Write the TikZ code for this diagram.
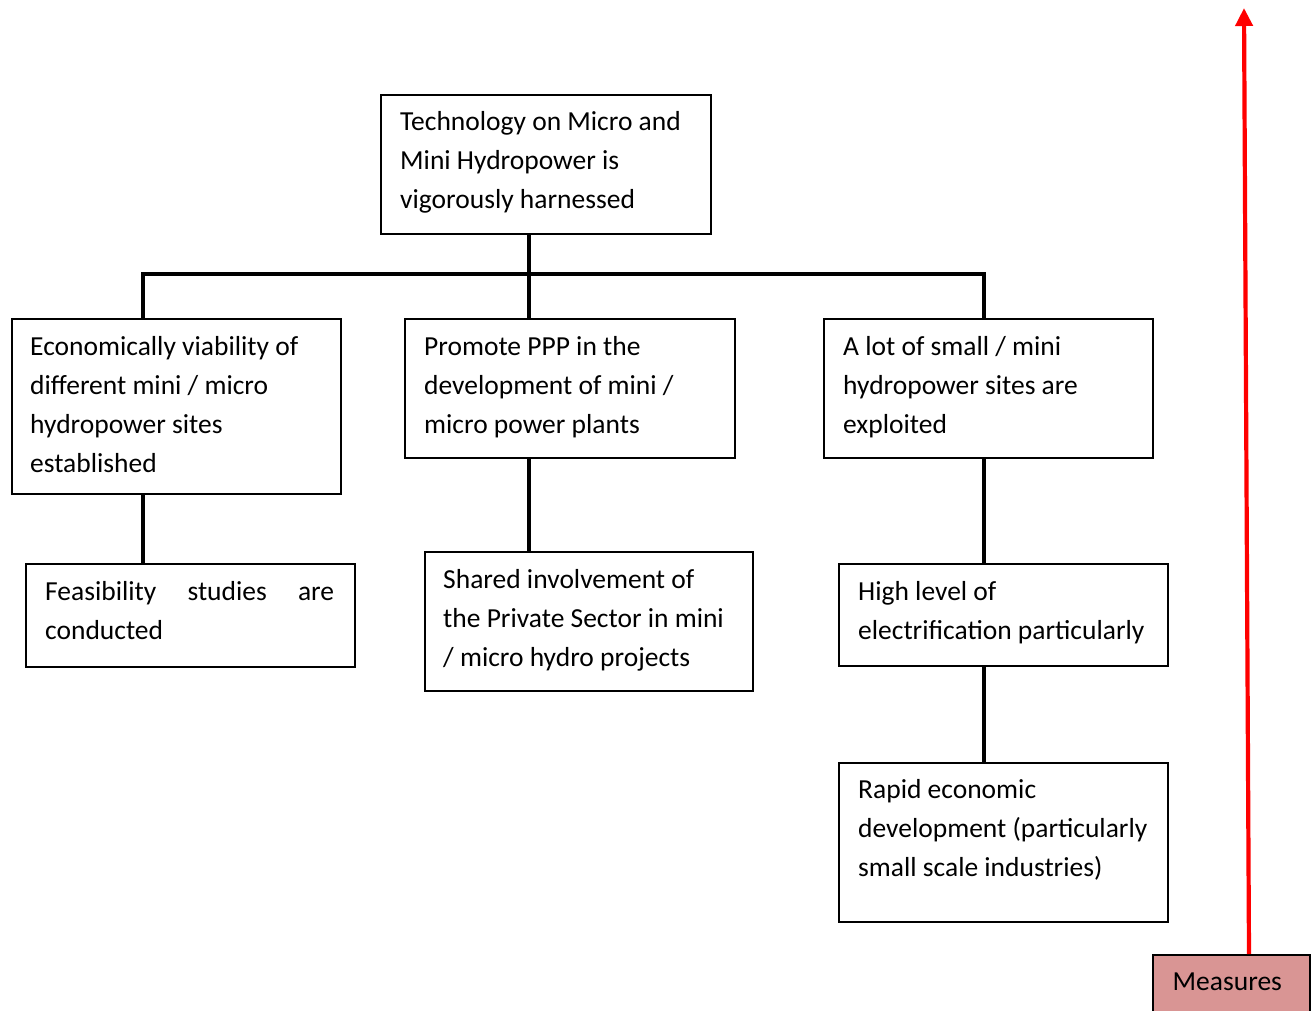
\documentclass[tikz,border=0pt]{standalone}
\usepackage{fontspec}
\setmainfont{Carlito}
\usetikzlibrary{calc,arrows.meta}
\definecolor{measfill}{HTML}{D99594}
\newcommand\boxtext[2]{\parbox[t]{#1}{\fontsize{27.5}{39}\selectfont\raggedright #2}}
\begin{document}
\begin{tikzpicture}[x=1pt,y=-1pt,
  frame/.style={draw=black, line width=1.6pt, inner sep=0pt, anchor=north west},
  txt/.style={inner sep=0pt, anchor=base west},
  link/.style={line width=3.2pt, line join=miter},
  upflow/.style={draw=red, line width=4.2pt, -{Triangle[width=17pt,length=18pt]}}]
\useasboundingbox (0,0) rectangle (1315,1011);

% boxes
\node[frame, minimum width=330pt, minimum height=139pt] (top) at (380,94) {};
\node[frame, minimum width=329pt, minimum height=175pt] (l1) at (11,318) {};
\node[frame, minimum width=330pt, minimum height=139pt] (m1) at (404,318) {};
\node[frame, minimum width=329pt, minimum height=139pt] (r1) at (823,318) {};
\node[frame, minimum width=329pt, minimum height=103pt] (l2) at (25,563) {};
\node[frame, minimum width=328pt, minimum height=139pt] (m2) at (424,551) {};
\node[frame, minimum width=329pt, minimum height=102pt] (r2) at (838,563) {};
\node[frame, minimum width=329pt, minimum height=159pt] (r3) at (838,762) {};
\node[frame, fill=measfill, minimum width=157pt, minimum height=62pt] (meas) at (1152,954) {};

% box texts
\node[txt] (ttop) at ($(top.north west)+(20,36.5)$) {\boxtext{300pt}{Technology on Micro and\\Mini Hydropower is\\vigorously harnessed}};
\node[txt] (tl1) at ($(l1.north west)+(19,37)$) {\boxtext{300pt}{Economically viability of\\different mini / micro\\hydropower sites\\established}};
\node[txt] (tm1) at ($(m1.north west)+(20,37)$) {\boxtext{300pt}{Promote PPP in the\\development of mini /\\micro power plants}};
\node[txt] (tr1) at ($(r1.north west)+(20,37)$) {\boxtext{300pt}{A lot of small / mini\\hydropower sites are\\exploited}};
\node[txt] (tl2) at ($(l2.north west)+(20,37)$) {\boxtext{300pt}{\makebox[289pt][s]{Feasibility studies are}\\conducted}};
\node[txt] (tm2) at ($(m2.north west)+(19,37)$) {\boxtext{300pt}{Shared involvement of\\the Private Sector in mini\\/ micro hydro projects}};
\node[txt] (tr2) at ($(r2.north west)+(20,37)$) {\boxtext{300pt}{High level of\\electrification particularly}};
\node[txt] (tr3) at ($(r3.north west)+(20,36)$) {\boxtext{300pt}{Rapid economic\\development (particularly\\small scale industries)}};
\node[inner sep=0pt, anchor=base] (tmeas) at ($(meas.north)+(-4,36)$) {\fontsize{27.5}{39}\selectfont Measures};

% tree connectors
\coordinate (busL) at (143,274);
\coordinate (busM) at (529,274);
\coordinate (busR) at (984,274);
\draw[link] (busM |- top.south) -- (busM);
\draw[link] (busL |- l1.north) -- (busL) -- (busR) -- (busR |- r1.north);
\draw[link] (busM) -- (busM |- m1.north);
\draw[link] (busL |- l1.south) -- (busL |- l2.north);
\draw[link] (busM |- m1.south) -- (busM |- m2.north);
\draw[link] (busR |- r1.south) -- (busR |- r2.north);
\draw[link] (busR |- r2.south) -- (busR |- r3.north);

% upward arrow
\coordinate (tip) at (1244,8);
\draw[upflow] ($(meas.north west)+(97,0)$) -- (tip);
\end{tikzpicture}
\end{document}
